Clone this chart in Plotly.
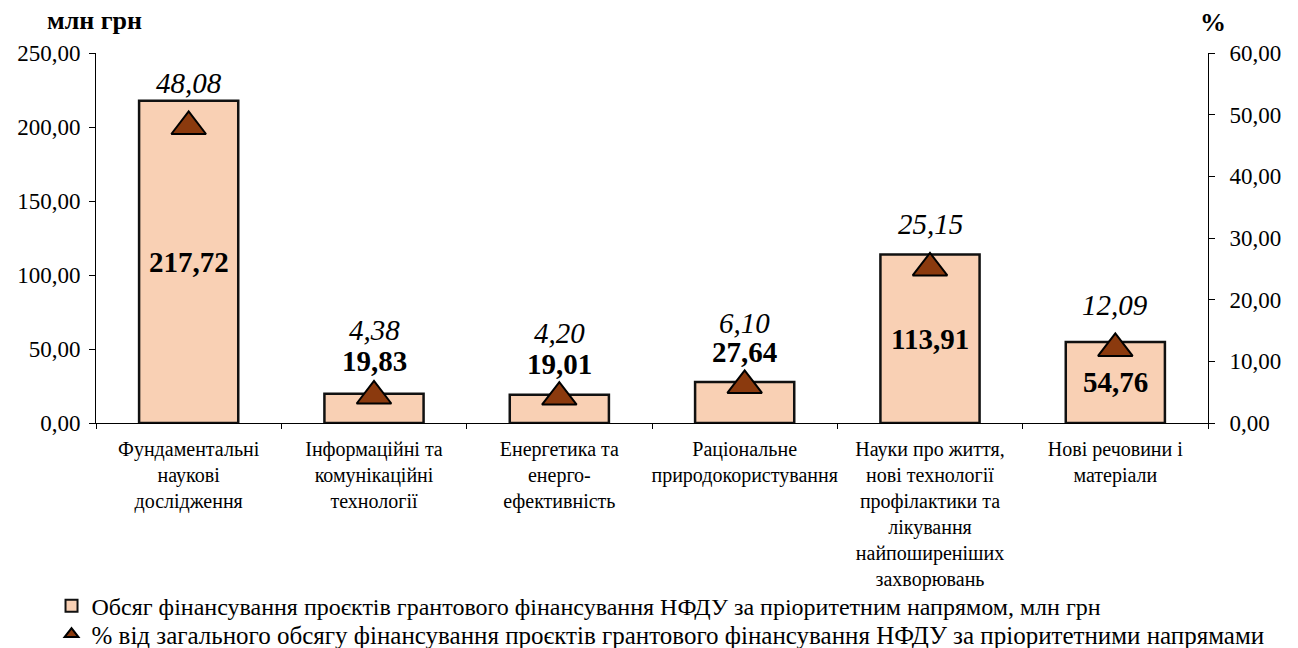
import plotly.graph_objects as go

categories = [
    "Фундаментальні<br>наукові<br>дослідження",
    "Інформаційні та<br>комунікаційні<br>технології",
    "Енергетика та<br>енерго-<br>ефективність",
    "Раціональне<br>природокористування",
    "Науки про життя,<br>нові технології<br>профілактики та<br>лікування<br>найпоширеніших<br>захворювань",
    "Нові речовини і<br>матеріали",
]
funding_mln = [217.72, 19.83, 19.01, 27.64, 113.91, 54.76]
share_pct = [48.08, 4.38, 4.20, 6.10, 25.15, 12.09]

left_ticks = [0, 50, 100, 150, 200, 250]
right_ticks = [0, 10, 20, 30, 40, 50, 60]

name_bar = "Обсяг фінансування проєктів грантового фінансування НФДУ за пріоритетним напрямом, млн грн"
name_pct = "% від загального обсягу фінансування проєктів грантового фінансування НФДУ за пріоритетними напрямами"

# label placement styles
bar_label_inside = [True, False, False, False, True, True]
bar_label_shift = [0, 33, 31, 30, 0, 0]
pct_label_shift = [44, 66, 64, 62, 44, 43]

FONT = "Liberation Serif"
BAR_FILL = "#F9D0B4"
TRI_FILL = "#8B3A0E"


def fmt(v):
    return f"{v:.2f}".replace(".", ",")


fig = go.Figure()
fig.add_trace(go.Bar(
    x=categories, y=funding_mln, name=name_bar,
    marker=dict(color=BAR_FILL, line=dict(color="#111111", width=2.5)),
    yaxis="y", hoverinfo="skip", legend="legend",
))
fig.add_trace(go.Scatter(
    x=categories, y=share_pct, name=name_pct, mode="markers",
    marker=dict(symbol="triangle-up", size=30, color=TRI_FILL,
                line=dict(color="#000000", width=2)),
    yaxis="y2", hoverinfo="skip", legend="legend2",
))

annotations = []
for c, v, inside, sh in zip(categories, funding_mln, bar_label_inside, bar_label_shift):
    annotations.append(dict(
        x=c, y=(v / 2 if inside else v), xref="x", yref="y",
        text=f"<b>{fmt(v)}</b>", showarrow=False, yshift=sh,
        yanchor="middle", font=dict(family=FONT, size=29, color="#000000"),
    ))
for c, p, sh in zip(categories, share_pct, pct_label_shift):
    annotations.append(dict(
        x=c, y=p, xref="x", yref="y2",
        text=f"<i>{fmt(p)}</i>", showarrow=False, yshift=sh,
        yanchor="middle", font=dict(family=FONT, size=29, color="#000000"),
    ))
annotations.append(dict(
    x=0.043, y=1.089, xref="paper", yref="paper", xanchor="right", yanchor="middle",
    text="<b>млн грн</b>", showarrow=False, font=dict(family=FONT, size=26, color="#000000"),
))
annotations.append(dict(
    x=1.0045, y=1.083, xref="paper", yref="paper", xanchor="center", yanchor="middle",
    text="<b>%</b>", showarrow=False, font=dict(family=FONT, size=26, color="#000000"),
))

legend_style = dict(
    orientation="v", xanchor="left", yanchor="middle",
    itemwidth=30, itemsizing="constant", bgcolor="rgba(0,0,0,0)",
)

fig.update_layout(
    width=1298, height=648,
    margin=dict(l=96, r=90, t=53, b=225, autoexpand=False),
    paper_bgcolor="white", plot_bgcolor="white",
    font=dict(family=FONT, size=20, color="#000000"),
    separators=", ",
    bargap=0.465,
    showlegend=True,
    legend=dict(x=-0.040, y=-0.495, font=dict(family=FONT, size=24, color="#000000"),
                **legend_style),
    legend2=dict(x=-0.040, y=-0.571, font=dict(family=FONT, size=25, color="#000000"),
                 **legend_style),
    xaxis=dict(
        showline=True, linecolor="#000000", linewidth=1,
        ticks="outside", ticklen=5, tickcolor="#000000", tickson="boundaries",
        tickangle=0, automargin=False, ticklabelstandoff=8,
        tickfont=dict(family=FONT, size=20, color="#000000"),
        showgrid=False, zeroline=False,
    ),
    yaxis=dict(
        range=[0, 250], tickvals=left_ticks, tickformat=".2f",
        showline=True, linecolor="#000000", linewidth=1,
        ticks="outside", ticklen=6, tickcolor="#000000", automargin=False,
        ticklabelstandoff=4,
        tickfont=dict(family=FONT, size=23, color="#000000"),
        showgrid=False, zeroline=False,
    ),
    yaxis2=dict(
        range=[0, 60], tickvals=right_ticks, tickformat=".2f",
        overlaying="y", side="right",
        showline=True, linecolor="#000000", linewidth=1,
        ticks="outside", ticklen=6, tickcolor="#000000", automargin=False,
        ticklabelstandoff=10,
        tickfont=dict(family=FONT, size=23, color="#000000"),
        showgrid=False, zeroline=False,
    ),
    annotations=annotations,
)

fig.write_html("out.html", config={"displayModeBar": False},
               post_script="document.body.style.margin='0';")
